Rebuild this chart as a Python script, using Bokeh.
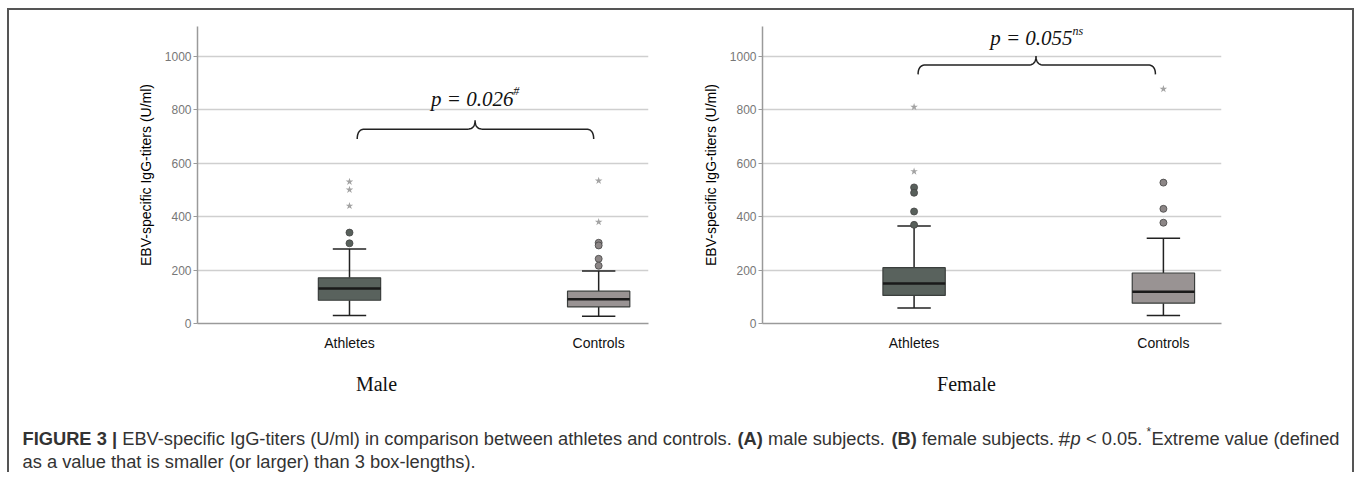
import numpy as np
from bokeh.plotting import figure
from bokeh.models import Range1d, FixedTicker, Label, ColumnDataSource
from bokeh.layouts import column, row
from bokeh.embed import file_html
from bokeh.resources import INLINE

# ---------------- data ----------------
categories = ["Athletes", "Controls"]
y_ticks = [0, 200, 400, 600, 800, 1000]

male_q1 = [87, 62]
male_median = [131, 91]
male_q3 = [171, 121]
male_low = [30, 27]
male_high = [279, 196]
male_out_athletes = [340, 300]
male_out_controls = [302, 292, 242, 216]
male_ext_athletes = [530, 500, 440]
male_ext_controls = [534, 380]
male_p_text = "p = 0.026"
male_p_sup = "#"

female_q1 = [105, 76]
female_median = [150, 119]
female_q3 = [209, 189]
female_low = [58, 30]
female_high = [365, 319]
female_out_athletes = [509, 489, 419, 369]
female_out_controls = [527, 429, 377]
female_ext_athletes = [810, 569]
female_ext_controls = [877]
female_p_text = "p = 0.055"
female_p_sup = "ns"

panel_titles = ["Male", "Female"]

box_colors = ["#59625d", "#999393"]
out_colors = ["#58605b", "#8c8686"]

FONT = "Liberation Sans"
SERIF = "Liberation Serif"


def brace(x0, x1, xm, y_end, y_top, y_peak, dx):
    t = np.linspace(0, 1, 12)

    def qb(p0, c, p1):
        return ((1 - t) ** 2 * p0[0] + 2 * (1 - t) * t * c[0] + t ** 2 * p1[0],
                (1 - t) ** 2 * p0[1] + 2 * (1 - t) * t * c[1] + t ** 2 * p1[1])

    segs = [
        qb((x0, y_end), (x0, y_top), (x0 + dx, y_top)),
        qb((xm - dx, y_top), (xm, y_top), (xm, y_peak)),
        qb((xm, y_peak), (xm, y_top), (xm + dx, y_top)),
        qb((x1 - dx, y_top), (x1, y_top), (x1, y_end)),
    ]
    xs = np.concatenate([s[0] for s in segs])
    ys = np.concatenate([s[1] for s in segs])
    return xs, ys


def panel(q1, med, q3, low, high, out_a, out_c, ext_a, ext_c,
          xr, bl, br, fw, ptxt, psup, p_x, p_y, sup_x, sup_y,
          br_x0, br_x1, br_xm, br_end, br_top, br_peak):
    p = figure(frame_width=fw, frame_height=297,
               x_range=Range1d(*xr), y_range=Range1d(0, 1111),
               min_border_left=bl, min_border_right=br,
               min_border_top=16, min_border_bottom=42,
               output_backend="svg", toolbar_location=None,
               background_fill_color="white", border_fill_color="white")
    p.outline_line_color = None
    p.xgrid.visible = False
    p.ygrid.grid_line_color = "#cfcfcf"
    p.ygrid.grid_line_width = 1.5

    xpos = [i + 1 for i in range(len(categories))]
    p.xaxis.ticker = FixedTicker(ticks=xpos)
    p.xaxis.major_label_overrides = {x: c for x, c in zip(xpos, categories)}
    p.xaxis.major_tick_line_color = None
    p.xaxis.minor_tick_line_color = None
    p.xaxis.axis_line_color = "#9a9a9a"
    p.xaxis.axis_line_width = 1.5
    p.xaxis.major_label_text_font = FONT
    p.xaxis.major_label_text_font_size = "14px"
    p.xaxis.major_label_text_color = "#111111"
    p.xaxis.major_label_standoff = 5

    p.yaxis.ticker = FixedTicker(ticks=y_ticks)
    p.yaxis.minor_tick_line_color = None
    p.yaxis.major_tick_out = 4
    p.yaxis.major_tick_in = 0
    p.yaxis.major_tick_line_color = "#9a9a9a"
    p.yaxis.axis_line_color = "#9a9a9a"
    p.yaxis.axis_line_width = 1.5
    p.yaxis.major_label_text_font = FONT
    p.yaxis.major_label_text_font_size = "12px"
    p.yaxis.major_label_text_color = "#777777"
    p.yaxis.major_label_standoff = 2
    p.yaxis.axis_label = "EBV-specific IgG-titers (U/ml)"
    p.yaxis.axis_label_text_font = FONT
    p.yaxis.axis_label_text_font_size = "14px"
    p.yaxis.axis_label_text_font_style = "normal"
    p.yaxis.axis_label_text_color = "#000000"
    p.yaxis.axis_label_standoff = 8

    src = ColumnDataSource(dict(x=xpos, q1=q1, med=med, q3=q3, low=low, high=high))
    hw = 0.125
    cw = 0.067
    p.segment(x0="x", y0="q3", x1="x", y1="high", source=src, line_color="#222222", line_width=1.5)
    p.segment(x0="x", y0="low", x1="x", y1="q1", source=src, line_color="#222222", line_width=1.5)
    for v in (high, low):
        p.segment(x0=[x - cw for x in xpos], y0=v, x1=[x + cw for x in xpos],
                  y1=v, line_color="#222222", line_width=1.5)
    p.quad(left=[x - hw for x in xpos], right=[x + hw for x in xpos], bottom=q1, top=q3,
           fill_color=box_colors, line_color="#3b3f3d", line_width=1.2)
    p.segment(x0=[x - hw for x in xpos], y0=med, x1=[x + hw for x in xpos], y1=med,
              line_color="#1a1a1a", line_width=2.5)

    for i, (outs, exts) in enumerate(((out_a, ext_a), (out_c, ext_c))):
        p.scatter(x=[xpos[i]] * len(outs), y=outs, marker="circle", size=7,
                  fill_color=out_colors[i], line_color="#444444", line_width=0.8)
        p.scatter(x=[xpos[i]] * len(exts), y=exts, marker="star", size=8,
                  fill_color="#a3a3a3", line_color=None)

    bx, by = brace(br_x0, br_x1, br_xm, br_end, br_top, br_peak, 0.03)
    p.line(bx, by, line_color="#222222", line_width=1.5)

    p.add_layout(Label(x=p_x, y=p_y, text=ptxt, text_font=SERIF, text_font_size="21px",
                       text_font_style="italic", text_color="#111111",
                       text_align="left", text_baseline="middle"))
    p.add_layout(Label(x=sup_x, y=sup_y, text=psup, text_font=SERIF, text_font_size="12px",
                       text_font_style="italic", text_color="#111111",
                       text_align="left", text_baseline="middle"))
    return p


p1 = panel(male_q1, male_median, male_q3, male_low, male_high,
           male_out_athletes, male_out_controls, male_ext_athletes, male_ext_controls,
           (0.39, 2.2), 188, 32, 451, male_p_text, male_p_sup, 1.327, 840, 1.657, 868,
           1.031, 1.98, 1.504, 690, 727, 760)
p2 = panel(female_q1, female_median, female_q3, female_low, female_high,
           female_out_athletes, female_out_controls, female_ext_athletes, female_ext_controls,
           (0.392, 2.233), 82, 131, 459, female_p_text, female_p_sup, 1.305, 1069, 1.635, 1095,
           1.016, 1.968, 1.489, 932, 967, 1001)

# ---------------- titles + caption ----------------
CAP_W, CAP_H = 1343, 107
cap = figure(width=CAP_W, height=CAP_H, x_range=Range1d(0, CAP_W), y_range=Range1d(CAP_H, 0),
             x_axis_type=None, y_axis_type=None, min_border=0,
             output_backend="svg", toolbar_location=None)
cap.outline_line_color = None
cap.grid.visible = False

for tx, t in zip((367, 957), panel_titles):
    cap.add_layout(Label(x=tx, y=18, text=t, text_font=SERIF, text_font_size="20px",
                         text_color="#111111", text_align="center", text_baseline="middle"))

L1, L2 = 73, 96
segments = [
    (13, L1, "FIGURE 3 |", "bold", "18.3px"),
    (112.7, L1, "EBV-specific IgG-titers (U/ml) in comparison between athletes and controls.", "normal", "18.3px"),
    (728, L1, "(A)", "bold", "18.3px"),
    (758.5, L1, "male subjects.", "normal", "18.3px"),
    (882, L1, "(B)", "bold", "18.3px"),
    (912.5, L1, "female subjects.", "normal", "18.3px"),
    (1049, L1, "#", "normal", "21px"),
    (1061, L1, "p", "italic", "18.3px"),
    (1076.5, L1, "< 0.05.", "normal", "18.3px"),
    (1137, L1 - 7, "*", "normal", "12px"),
    (1142, L1, "Extreme value (defined", "normal", "18.3px"),
    (13, L2, "as a value that is smaller (or larger) than 3 box-lengths).", "normal", "18.3px"),
]
for x, y, t, style, size in segments:
    cap.add_layout(Label(x=x, y=y, text=t, text_font=FONT, text_font_size=size,
                         text_font_style=style, text_color="#333333",
                         text_align="left", text_baseline="middle"))

layout = column(row(p1, p2), cap,
                styles={"border-left": "2px solid #555555", "border-top": "2px solid #555555",
                        "border-right": "2px solid #555555",
                        "margin-left": "7px", "margin-top": "8px"})

open("out.html", "w").write(file_html(layout, INLINE))
